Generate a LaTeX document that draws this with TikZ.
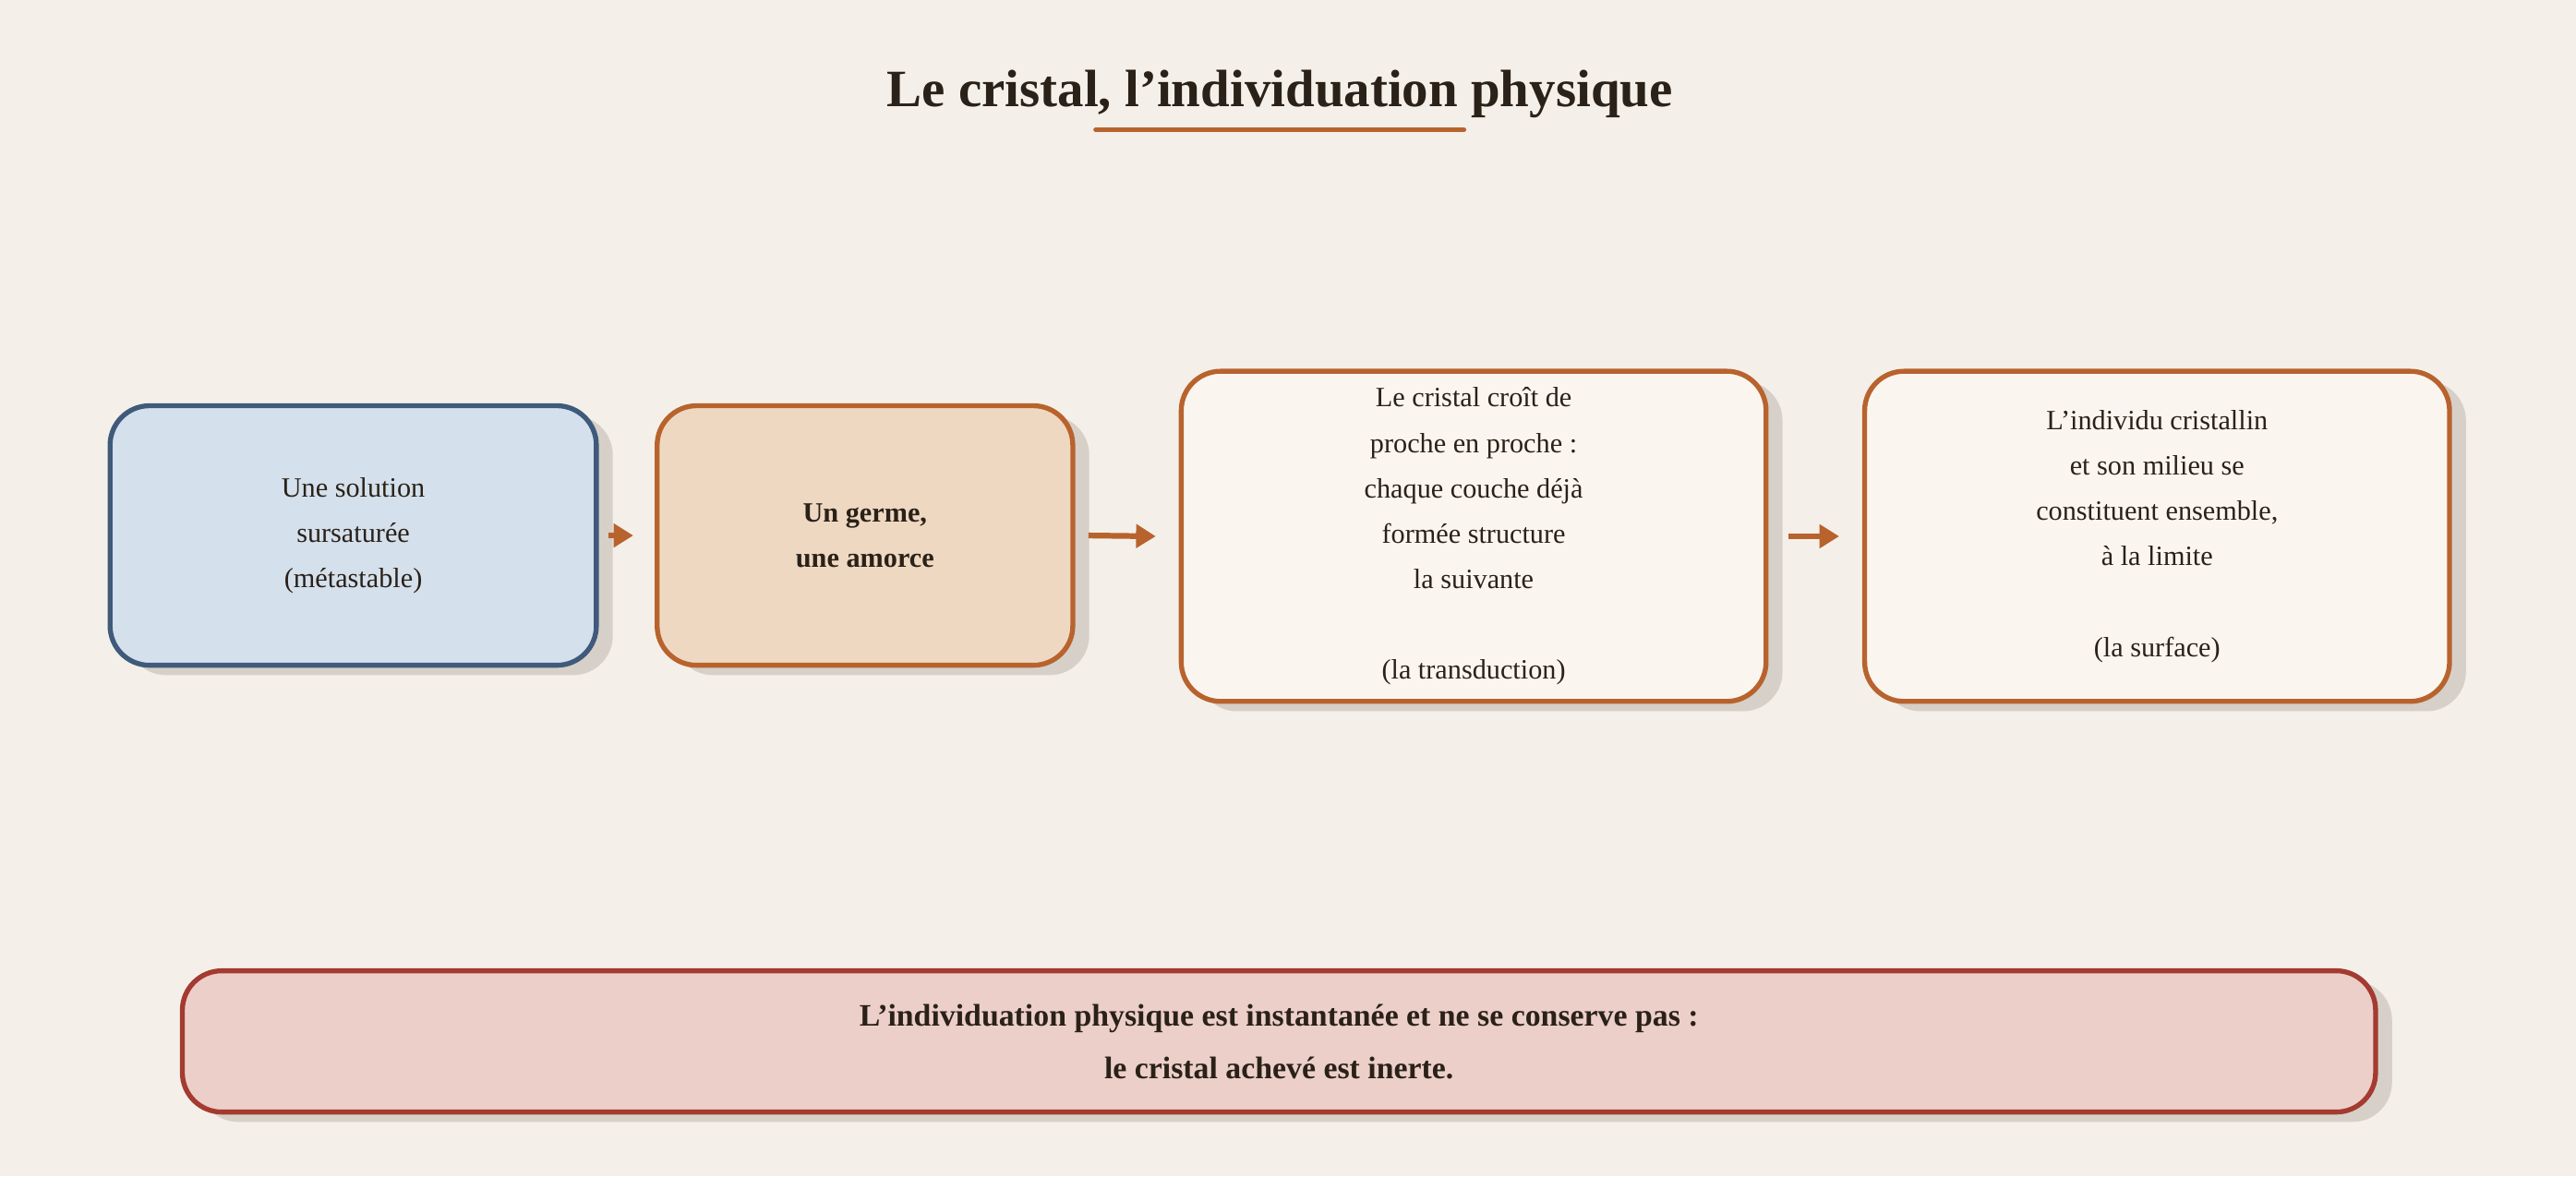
\documentclass[tikz,border=0pt]{standalone}
\usepackage{fontspec}
\setmainfont{Liberation Serif}
\usetikzlibrary{shadows,arrows.meta}
\definecolor{bg}{HTML}{F4F0E9}
\definecolor{blueF}{HTML}{D4E0EC}
\definecolor{blueD}{HTML}{3F5A7A}
\definecolor{orF}{HTML}{EFD8C2}
\definecolor{orD}{HTML}{B8632E}
\definecolor{crF}{HTML}{FAF6EF}
\definecolor{rdF}{HTML}{ECCFC9}
\definecolor{rdD}{HTML}{A43A30}
\definecolor{ink}{HTML}{2A2118}
\definecolor{shd}{HTML}{D6D0C8}
\tikzset{
  box/.style={rounded corners=24pt, line width=3pt, align=center, text=ink,
    font=\fontsize{17}{27.6}\selectfont,
    drop shadow={shadow xshift=10pt, shadow yshift=-6pt, fill=shd, opacity=1}},
  conn/.style={draw=orD, line width=3.5pt, -{Triangle[length=12pt,width=14pt]}}
}
\begin{document}
\begin{tikzpicture}[x=1pt,y=-1pt]
\fill[bg] (0,0) rectangle (1568,716);
\node (title) at (779,57) {\fontsize{32}{36}\selectfont\bfseries\color{ink} Le cristal, l'individuation physique};
\coordinate (u1) at (667,79); \coordinate (u2) at (891,79);
\draw[orD, line width=3pt, line cap=round] (u1) -- (u2);
\node[box, draw=blueD, fill=blueF, minimum width=296pt, minimum height=158pt] (a) at (215,326) {Une solution\\sursaturée\\(métastable)};
\node[box, draw=orD, fill=orF, minimum width=253pt, minimum height=158pt, font=\fontsize{17}{27.6}\selectfont\bfseries] (b) at (526.5,326) {Un germe,\\une amorce};
\node[box, draw=orD, fill=crF, minimum width=356pt, minimum height=201pt] (c) at (897,326.5) {Le cristal croît de\\proche en proche :\\chaque couche déjà\\formée structure\\la suivante\\[27.6pt](la transduction)};
\node[box, draw=orD, fill=crF, minimum width=356pt, minimum height=201pt] (d) at (1313,326.5) {L'individu cristallin\\et son milieu se\\constituent ensemble,\\à la limite\\[27.6pt](la surface)};
\node[box, draw=rdD, fill=rdF, minimum width=1335pt, minimum height=86pt, font=\fontsize{19}{32}\selectfont\bfseries] (e) at (778.5,634) {L'individuation physique est instantanée et ne se conserve pas :\\le cristal achevé est inerte.};
\draw[conn] ([xshift=6pt]a.east) -- ([xshift=-13pt]b.west);
\draw[conn] ([xshift=8pt]b.east) -- ([xshift=-14pt]c.west);
\draw[conn] ([xshift=12pt]c.east) -- ([xshift=-14pt]d.west);
\end{tikzpicture}
\end{document}
